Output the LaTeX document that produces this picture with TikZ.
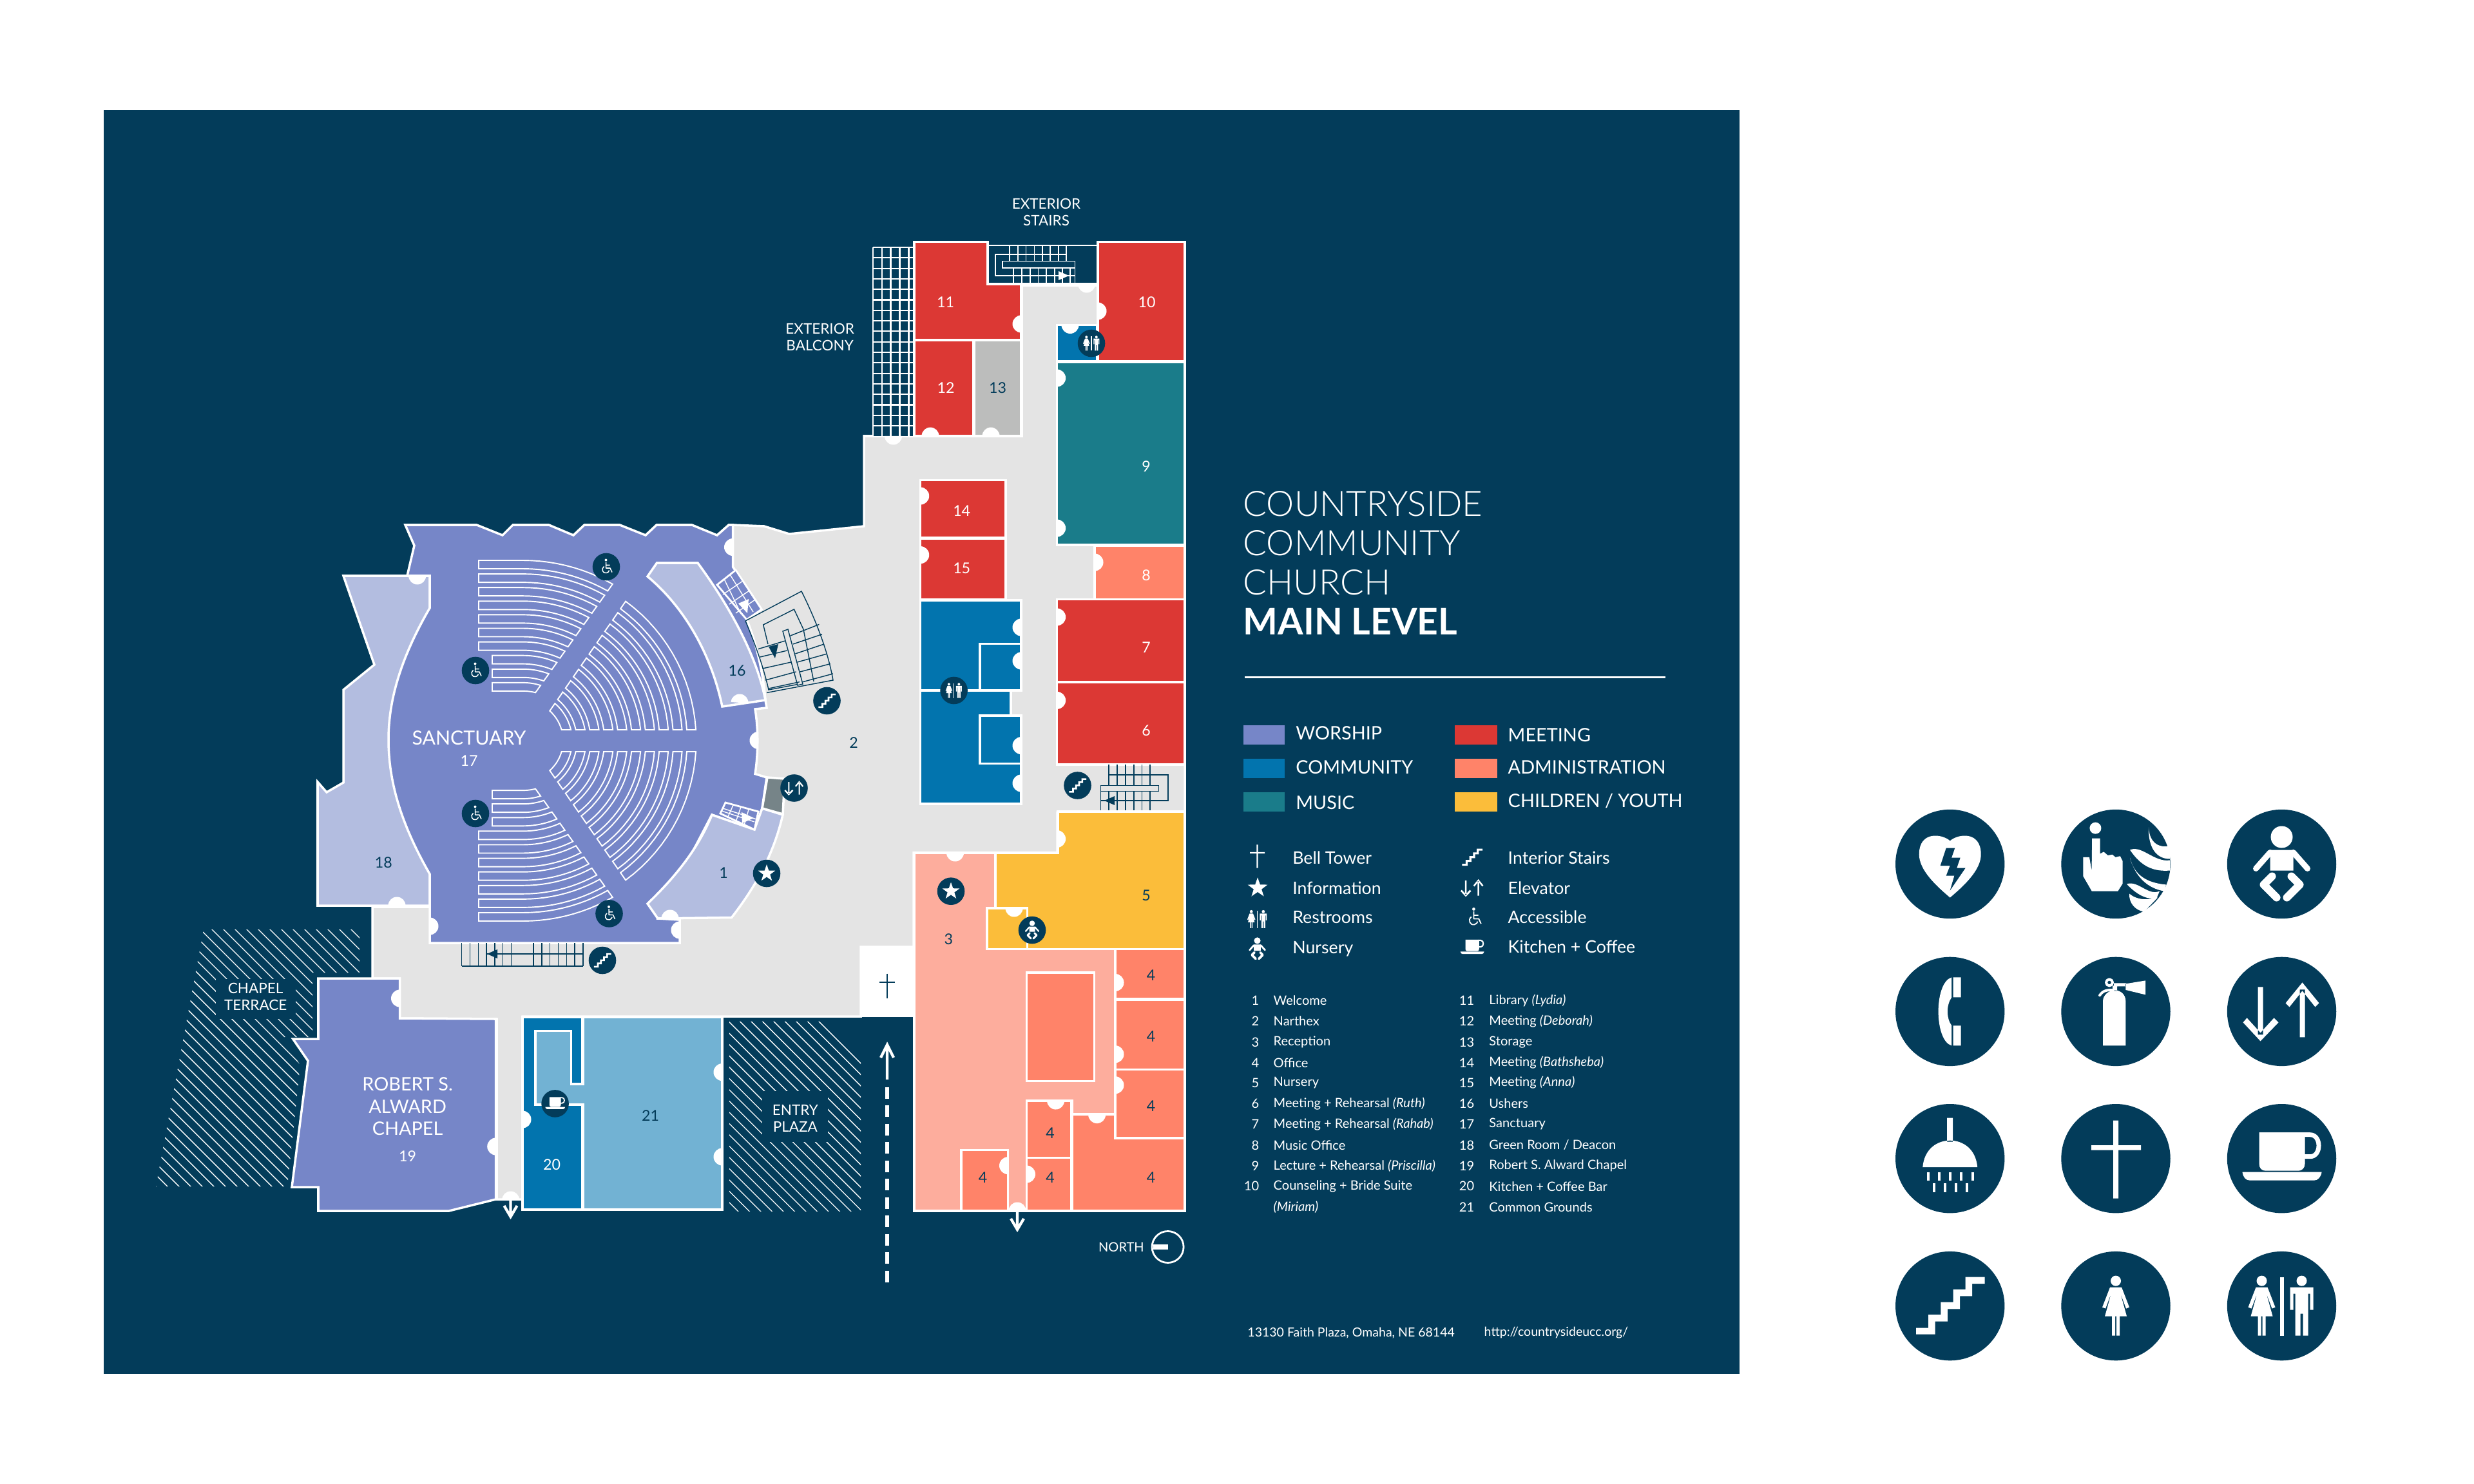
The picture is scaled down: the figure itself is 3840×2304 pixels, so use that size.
\documentclass[tikz,border=0pt]{standalone}
\usepackage{fontspec}
\setmainfont{Lato}
\newfontfamily\thinfont{Lato Light}
\usepackage{xcolor}
\definecolor{ink}{HTML}{033C5A}
\definecolor{worship}{HTML}{7686C8}
\definecolor{worshiplt}{HTML}{B3BDE0}
\definecolor{commun}{HTML}{0274AE}
\definecolor{communlt}{HTML}{72B2D3}
\definecolor{music}{HTML}{1A7C8A}
\definecolor{meeting}{HTML}{DC3834}
\definecolor{admin}{HTML}{FF8369}
\definecolor{adminlt}{HTML}{FDAD9D}
\definecolor{youth}{HTML}{FBBD3A}
\definecolor{hall}{HTML}{E4E4E4}
\definecolor{store}{HTML}{BCBDBC}
\definecolor{lift}{HTML}{768488}

% icons, drawn for a disc of radius 85, y down
\newcommand{\icostar}{\fill[white] (0,-56) -- (13,-18) -- (53,-17) -- (21,7) -- (33,45) -- (0,22) -- (-33,45) -- (-21,7) -- (-53,-17) -- (-13,-18) -- cycle;}
\newcommand{\icostep}{\fill[white] (-52.6,34) -- (-33.5,34) -- (-33.5,13.5) -- (-14.4,13.5) -- (-14.4,-5.9) -- (4.8,-5.9) -- (4.8,-25.8) -- (24,-25.8) -- (24,-45) -- (54,-45) -- (54,-34.6) -- (34.4,-34.6) -- (34.4,-15.3) -- (15.3,-15.3) -- (15.3,4.7) -- (-3.8,4.7) -- (-3.8,24) -- (-23,24) -- (-23,44) -- (-52.6,44) -- cycle;}
\newcommand{\icolift}{\fill[white] (-37,-38) rectangle (-29,36) (-33,46) -- (-60,17) -- (-54,10) -- (-33,33) -- (-12,10) -- (-5,17) -- cycle
  (28,-34) rectangle (36,40) (32,-45) -- (58,-13) -- (52,-7) -- (32,-32) -- (12,-7) -- (6,-13) -- cycle;}
\newcommand{\icowoman}{\fill[white] (0,-39) circle[radius=8] (-9,-29) -- (9,-29) -- (21,2) -- (16,4) -- (7,-20) -- (17,16) -- (6,16) -- (6,46) -- (1,46) -- (1,16) -- (-1,16) -- (-1,46) -- (-6,46) -- (-6,16) -- (-17,16) -- (-7,-20) -- (-16,4) -- (-21,2) -- cycle;}
\newcommand{\icoman}{\fill[white] (0,-39) circle[radius=8] (-18,-29) -- (18,-29) -- (18,6) -- (13,6) -- (13,-19) -- (10,-19) -- (10,46) -- (2,46) -- (2,12) -- (-2,12) -- (-2,46) -- (-10,46) -- (-10,-19) -- (-13,-19) -- (-13,6) -- (-18,6) -- cycle;}
\newcommand{\icorest}{\begin{scope}[shift={(-31,0)}]\icowoman\end{scope}\begin{scope}[shift={(31,0)}]\icoman\end{scope}\fill[white] (-3,-45) rectangle (3,46);}
\newcommand{\icobaby}{\fill[white] (0,-42) circle[radius=17] (-18,-22) rectangle (18,10);
  \draw[icoln=9] (-18,-18) -- (-40,7) (18,-18) -- (40,7);
  \draw[icoln=12] (-15,19) -- (-28,32) -- (-8,52) (15,19) -- (28,32) -- (8,52);}
\newcommand{\icochair}{\fill[white] (-2,-42) circle[radius=8];
  \draw[icoln=6,line cap=butt] (-2,-30) -- (-2,8) -- (24,8) -- (36,34) (-2,-10) -- (22,-10)
    (-14,-2) .. controls (-34,12) and (-22,44) .. (2,38) .. controls (12,36) and (17,28) .. (18,22);}
\newcommand{\icocup}{\fill[white] (-35,-40.5) -- (36,-40.5) -- (36,8) .. controls (36,15) and (31,19) .. (26,19) -- (-25,19) .. controls (-31,19) and (-35,15) .. (-35,8) -- cycle
  (-61,21) -- (62,21) .. controls (61,29) and (56,34) .. (50,34) -- (-49,34) .. controls (-56,34) and (-60,29) .. (-61,21) -- cycle;
  \draw[icoln=7,line cap=butt] (34,-37) -- (44,-37) .. controls (62,-37) and (62,-3) .. (44,-3) -- (34,-3);}
\newcommand{\icocross}{\fill[white] (-4,-59) rectangle (4,62) (-38,-20.5) rectangle (39,-13);}
\newcommand{\icoheart}{\fill[white] (0,-36) .. controls (-12,-47) and (-48,-52) .. (-48,-15) .. controls (-48,10) and (-20,35) .. (0,52) .. controls (20,35) and (48,10) .. (48,-15) .. controls (48,-52) and (12,-47) .. (0,-36) -- cycle;
  \fill[ink] (-6,-25) -- (7.6,-25) -- (2.4,-10) -- (16,-10) -- (10.5,6) -- (24,6) -- (0,41) -- (6.7,18) -- (-6,18) -- (0,2.5) -- (-15,2.5) -- cycle;}
\newcommand{\icofire}{\fill[white] (-31.6,-55.8) circle[radius=9]
  (-36.8,-40) -- (-24.4,-40) -- (-24.4,-16) -- (-18.7,-19) -- (-12.4,-13.5) -- (-5.3,-14.7) -- (-.5,-10.6) -- (6.7,-12.3) -- (10.5,-4.7) -- (10.5,30.5) -- (3.3,42) -- (-37.3,42) -- (-50.7,18.8) -- (-50.7,-10.6) -- (-41.1,-10.6) -- (-37.5,10) -- cycle
  (51,-57.5) .. controls (52,-30) and (70,-25) .. (84,-28) -- (84,-8) .. controls (60,-8) and (50,-30) .. cycle
  (22,-22) .. controls (40,-30) and (60,-2) .. (84,-6) -- (84,10) .. controls (60,12) and (40,5) .. cycle
  (22,-10) .. controls (30,25) and (60,30) .. (78,32) -- (75,42) .. controls (50,38) and (30,20) .. cycle
  (17,31) .. controls (35,25) and (50,50) .. (68,42) -- (63,54) .. controls (45,55) and (30,45) .. cycle
  (21,46) .. controls (35,58) and (55,55) .. (65,52) -- (44,74) .. controls (30,72) and (20,60) .. cycle;}
\newcommand{\icophone}{\fill[white] (5,-53) rectangle (17,-22) (5,22) rectangle (17,53)
  (2.5,-53) .. controls (-25,-45) and (-25,45) .. (2.5,53) -- (2.5,22) .. controls (-6,10) and (-6,-10) .. (2.5,-22) -- cycle;}
\newcommand{\icoext}{\fill[white] (-20,-16) .. controls (-20,-26) and (-10,-33) .. (-2,-33) .. controls (8,-33) and (15.3,-26) .. (15.3,-16) -- (15.3,53) -- (-20,53) -- cycle
  (15.3,-43) -- (46,-48) -- (46,-26) -- (15.3,-33.5) -- cycle (-3,-44) rectangle (16,-39) (-5,-40) rectangle (2,-32);
  \draw[icoln=4,line cap=butt] (-10,-45) circle[radius=5];
  \draw[icoln=4] (-25,-25) .. controls (-20,-33) and (-12,-34) .. (-4,-33);}
\newcommand{\icoshower}{\fill[white] (-4.5,-63) rectangle (4.5,-26) (-42.5,13.5) .. controls (-40,-15) and (-20,-28) .. (0,-28) .. controls (20,-28) and (40,-15) .. (42.5,13.5) -- cycle;
  \foreach \dx in {-33.5,-17,0.5,17.5,35}{\fill[white] (\dx-2,21) rectangle (\dx+2,34);}
  \foreach \dx in {-25,-8,9,26}{\fill[white] (\dx-2,38) rectangle (\dx+2,52);}}

\newcommand{\icon}[4]{\begin{scope}[shift={(#1,#2)},scale=#3]\def\us{#3}\csname ico#4\endcsname\end{scope}}
\newcommand{\disc}[3]{\fill[ink] (#1,#2) circle[radius=21.3]; \icon{#1}{#2}{.25}{#3}}
\newcommand{\bigdisc}[3]{\fill[ink] (#1,#2) circle[radius=84.7]; \icon{#1}{#2}{1}{#3}}
\newcommand{\door}[3]{\fill[white,shift={(#1,#2)},rotate=#3] (0,-0.135cm) arc[start angle=-90,end angle=90,radius=0.135cm] -- cycle;}
\newcommand{\exitarrow}[4]{\draw[walk] (#1,#2) -- (#1,#3) (#1-10,#4) -- (#1,#3) -- (#1+10,#4);}

\begin{document}
\begin{tikzpicture}[x=0.01cm,y=-0.01cm]

\tikzset{room/.style = {draw=white,line width=1pt,line join=miter}}
\tikzset{thin wall/.style = {draw=white,line width=0.6pt}}
\tikzset{seat/.style = {draw=white,line width=0.55pt}}
\tikzset{hatch/.style = {draw=white,line width=0.4pt}}
\tikzset{tread/.style = {draw=ink,line width=0.4pt}}
\tikzset{treadw/.style = {draw=white,line width=0.4pt}}
\tikzset{walk/.style = {draw=white,line width=1.2pt}}
\tikzset{icoln/.style = {draw=white,line width={\us*#1*0.2845pt},line cap=round,line join=round}}
\tikzset{numw/.style = {text=white,inner sep=0pt,font=\fontsize{6.6}{8}\selectfont}}
\tikzset{numd/.style = {text=ink,inner sep=0pt,font=\fontsize{6.6}{8}\selectfont}}
\tikzset{place/.style = {text=white,inner sep=0pt,align=center,font=\fontsize{6.4}{7.6}\selectfont}}
\tikzset{head/.style = {text=white,inner sep=0pt,anchor=west,font=\fontsize{8.2}{10}\selectfont}}
\tikzset{sym/.style = {text=white,inner sep=0pt,anchor=west,font=\fontsize{7.6}{9}\selectfont}}
\tikzset{item/.style = {text=white,inner sep=0pt,anchor=west,font=\fontsize{5.7}{7}\selectfont}}
\tikzset{itemno/.style = {text=white,inner sep=0pt,anchor=east,font=\fontsize{5.7}{7}\selectfont}}
\tikzset{title/.style = {text=white,inner sep=0pt,anchor=west,font=\thinfont\fontsize{15.5}{19}\selectfont}}

\useasboundingbox (0,0) rectangle (3840,2304);
\fill[ink] (161,171) rectangle (2700,2133);

%hatched terraces
\begin{scope}
\clip (316,1443) -- (558,1443) -- (558,1510) -- (485,1510) -- (485,1610) -- (440,1610) -- (466,1654) -- (446,1842) -- (242,1842) -- cycle;
\foreach \d in {-200,-182,...,520}{\draw[hatch] (\d,1400) -- ++(520,520);}
\end{scope}
\fill[ink] (335,1520) rectangle (459,1582);
\begin{scope}
\clip (1132,1586) rectangle (1336,1880);
\foreach \d in {560,577.5,...,1100}{\draw[hatch] (\d,1400) -- ++(520,520);}
\end{scope}
\fill[ink] (1183,1694) rectangle (1285,1773);

%narthex and halls
\draw[room,fill=hall] (1137,830) -- (1137,815) -- (1186,817) -- (1225,829) -- (1341,817) -- (1341,677) -- (1586,677) -- (1586,443) -- (1702,443) -- (1839,443) -- (1839,1262) -- (1641,1262) -- (1641,1324) -- (1418,1324) -- (1418,1470) -- (1336,1470) -- (1336,1578) -- (811,1578) -- (811,1862) -- (771,1862) -- (771,1582) -- (620,1581) -- (620,1519) -- (578,1519) -- (578,1408) -- (700,1408) -- (700,900) -- cycle;
\fill[white] (1336,1470) rectangle (1419,1579);

%worship
\draw[room,fill=worshiplt] (533,894) -- (667,894) -- (667,1406) -- (493,1406) -- (493,1214) -- (507,1230) -- (533,1215) -- (533,1071) -- (581,1032) -- cycle;
\draw[room,fill=worship] (629,815) -- (740,815) -- (780,831) -- (796,815) -- (852,815) -- (890,831) -- (907,815) -- (962,815) -- (1002,831) -- (1019,815) -- (1074,815) -- (1113,831) -- (1131,815) -- (1137.5,815) -- (1137.5,880) -- (1182,946) -- (1159,962) .. controls (1175,1000) and (1185,1050) .. (1188,1087) -- (1190,1099) -- (1172,1101) .. controls (1177,1130) and (1177,1170) .. (1172,1201.5) -- (1190,1207) -- (1183,1255) -- (1171,1288) -- (1105,1265) -- (1021,1426) -- (1055,1428) -- (1055,1464) -- (667,1464) -- (667,1357) .. controls (620,1275) and (603,1210) .. (603,1148) .. controls (603,1090) and (620,1025) .. (667,944) -- (667,894) -- (632,894) -- (643,847) -- cycle;
\draw[room,fill=worshiplt] (1019.5,874) -- (1083,874) .. controls (1135,945) and (1175,1020) .. (1188,1087) -- (1121,1097) .. controls (1105,1020) and (1065,945) .. (1005,895) -- cycle;
\draw[room,fill=worshiplt] (1105,1265) -- (1171,1288) -- (1183,1255) -- (1215,1265) .. controls (1200,1330) and (1170,1380) .. (1135.6,1424.5) -- (1021,1426) -- (1005,1403) .. controls (1050,1360) and (1085,1315) .. (1105,1265) -- cycle;
\draw[room,fill=lift] (1191,1207) -- (1218,1209) -- (1215,1264) -- (1183,1255) -- cycle;

%seating
\def\cx{812}
\def\cy{1150}
\foreach \s in {1,-1}{
\foreach \i in {0,...,9}{
  \pgfmathsetmacro\ri{62+21.4*\i}
  \pgfmathsetmacro\ro{\ri+14}
  \pgfmathsetmacro\aa{asin(17/\ro)}
  \pgfmathsetmacro\ab{55.3-asin(7.6/\ro)}
  \pgfmathsetmacro\ac{55.3-asin(7.6/\ri)}
  \pgfmathsetmacro\ad{asin(17/\ri)}
  \draw[seat] plot[domain=\aa:\ab,samples=16] ({\cx+\ro*cos(\x)},{\cy-\s*\ro*sin(\x)}) -- plot[domain=\ac:\ad,samples=16] ({\cx+\ri*cos(\x)},{\cy-\s*\ri*sin(\x)}) -- cycle;
}
\foreach \i/\xa in {0/743,1/743,2/743,3/743,4/743,5/743,6/743,7/764,8/764,9/764}{
  \pgfmathsetmacro\ro{280-21.1*\i}
  \pgfmathsetmacro\ri{\ro-13}
  \pgfmathsetmacro\ab{54.6+asin(27.7/\ro)}
  \pgfmathsetmacro\ac{54.6+asin(27.7/\ri)}
  \draw[seat] (\xa,\cy-\s*\ro) -- plot[domain=90:\ab,samples=12] ({\cx+\ro*cos(\x)},{\cy-\s*\ro*sin(\x)}) -- plot[domain=\ac:90,samples=12] ({\cx+\ri*cos(\x)},{\cy-\s*\ri*sin(\x)}) -- (\xa,\cy-\s*\ri) -- cycle;
}}

%small stairs in the sanctuary
\draw[treadw,fill=worship,line width=0.8pt] (1113,908) -- (1142,885) -- (1182,946) -- (1159,962) -- cycle;
\draw[treadw] (1122,923) -- (1153,902) (1132,938) -- (1163,917) (1142,952) -- (1172,931) (1124,899) -- (1150,953) (1133,892) -- (1169,950);
\fill[white] (1162,930) -- (1160,952) -- (1146,937) -- cycle;
\draw[treadw,fill=worship,line width=0.8pt] (1118,1263) -- (1126,1246) -- (1177,1260) -- (1171,1288) -- cycle;
\draw[treadw] (1122,1255) -- (1174,1272) (1120,1259) -- (1171,1276) (1138,1250) -- (1129,1270) (1150,1253) -- (1142,1276) (1162,1257) -- (1155,1281);
\fill[white] (1151,1261) -- (1170,1270) -- (1152,1278) -- cycle;

%stairs by the ushers room
\draw[tread] (1157,964) -- (1244,918) .. controls (1265,960) and (1285,1010) .. (1293,1056) -- (1190,1075.5);
\draw[tread] (1157,964) .. controls (1172,1000) and (1185,1035) .. (1193,1071) -- (1246,1061);
\draw[tread] (1192,1000) -- (1184.7,970) -- (1232.5,946) -- (1247,977) -- (1263,1058);
\draw[tread,fill=hall] (1215,980) -- (1223,977) -- (1246,1062) -- (1238,1064) -- cycle;
\foreach \ax/\ay/\bx/\by in {1177/1007.6/1218.5/995,1180/1020/1221.7/1010,1183.4/1038/1228/1028,1188/1056/1235.7/1043,1193/1069/1241/1058.7,1226.8/987/1271.4/969.4,1231/1000/1276/984.7,1234.4/1015/1279/1000,1237.6/1028/1284/1015,1242/1043/1288.7/1030.6,1246/1058.7/1293/1046}{
  \draw[tread] (\ax,\ay) -- (\bx,\by);
}
\fill[ink] (1193,1004) -- (1208,1000) -- (1203,1022) -- cycle;

%stairs below the sanctuary
\foreach \xa in {716.6,729.4,...,794}{\draw[tread] (\xa,1464) -- (\xa,1500);}
\foreach \xa in {828,840.8,...,906}{\draw[tread] (\xa,1464) -- (\xa,1500);}
\draw[tread] (716.6,1500) -- (904.7,1500) (756,1481) -- (904.7,1481);
\fill[ink] (756,1481) -- (772,1474) -- (772,1488) -- cycle;

%north wing
\fill[ink] (1354.6,384) rectangle (1417.6,677);
\foreach \xa in {1354.6,1369,1382.5,1396.5,1410.5}{\draw[thin wall] (\xa,384) -- (\xa,677);}
\foreach \ya in {384,400.3,...,670}{\draw[thin wall] (1354.6,\ya) -- (1417.6,\ya);}
\draw[room,fill=ink,line width=0.7pt] (1533,381) rectangle (1703,440);
\foreach \xa in {1567,1580,1592.6,1605.6,1618,1630,1643,1655}{\draw[treadw] (\xa,382) -- (\xa,405.6);}
\foreach \xa in {1573,1586,1599,1611.5,1624,1637,1649,1661}{\draw[treadw] (\xa,416) -- (\xa,439.5);}
\draw[treadw] (1655,395) -- (1545,395) -- (1545,428) -- (1668.7,428) (1668.7,439.5) -- (1668.7,405.6) -- (1556,405.6) -- (1556,416) -- (1668.7,416);
\fill[white] (1643,421) -- (1659,428) -- (1643,435) -- cycle;

\draw[room,fill=meeting] (1419,375.7) -- (1533,375.7) -- (1533,441) -- (1585,441) -- (1585,527.5) -- (1419,527.5) -- cycle;
\draw[room,fill=meeting] (1419,528.5) rectangle (1511,677);
\draw[room,fill=store] (1512.6,528.5) rectangle (1585,677);
\draw[room,fill=meeting] (1704,375.7) rectangle (1839,560.6);
\draw[room,fill=commun] (1640.6,504.5) rectangle (1702.6,560.6);
\draw[room,fill=music] (1640.6,562.5) rectangle (1839,846);
\draw[room,fill=admin] (1699,847.6) rectangle (1839,930.5);
\draw[room,fill=meeting] (1640.6,930.5) rectangle (1839,1059);
\draw[room,fill=meeting] (1640.6,1059) rectangle (1839,1187);
\draw[room,fill=meeting] (1428.7,745.6) rectangle (1561,835);
\draw[room,fill=meeting] (1428.7,836) rectangle (1561,930.5);
\draw[room,fill=commun] (1428.7,932) -- (1585,932) -- (1585,1072) -- (1569,1072) -- (1569,1111) -- (1585,1111) -- (1585,1248) -- (1428.7,1248) -- cycle;
\draw[room] (1428.7,1072) -- (1585,1072);
\draw[room,fill=commun] (1521,999.4) rectangle (1585,1072);
\draw[room,fill=commun] (1521,1111) rectangle (1585,1185.6);

%stairs by room 6
\foreach \xa in {1721,1734,1747,1760,1772.4,1785}{\draw[tread] (\xa,1187) -- (\xa,1219.4) (\xa,1228.3) -- (\xa,1259);}
\draw[tread] (1721,1203) -- (1813,1203) -- (1813,1243) -- (1708.4,1243) (1708.4,1259) -- (1708.4,1219.4) -- (1798.6,1219.4) -- (1798.6,1228.3) -- (1708.4,1228.3);
\fill[ink] (1714,1243) -- (1730,1236) -- (1730,1250) -- cycle;

%south wing
\draw[room,fill=adminlt] (1419,1324) -- (1545,1324) -- (1545,1410) -- (1532,1410) -- (1532,1473.5) -- (1731,1473.5) -- (1731,1730) -- (1664,1730) -- (1664,1709) -- (1593.5,1709) -- (1593.5,1880) -- (1419,1880) -- cycle;
\draw[room,fill=youth] (1642,1260) -- (1839,1260) -- (1839,1473.5) -- (1593.5,1473.5) -- (1593.5,1410) -- (1545,1410) -- (1545,1324) -- (1642,1324) -- cycle;
\draw[room,fill=youth] (1532,1410) rectangle (1594.5,1473.5);
\draw[room,fill=admin] (1593.5,1510) rectangle (1698.7,1678.6);
\draw[room,fill=admin] (1731,1473.5) rectangle (1839,1551);
\draw[room,fill=admin] (1731,1552) rectangle (1839,1660.7);
\draw[room,fill=admin] (1731,1660.7) rectangle (1839,1766.8);
\draw[room,fill=admin] (1664,1730.6) -- (1731,1730.6) -- (1731,1766.8) -- (1839,1766.8) -- (1839,1880) -- (1664,1880) -- cycle;
\draw[room,fill=admin] (1593.5,1709) rectangle (1663,1797.5);
\draw[room,fill=admin] (1593.5,1797.5) rectangle (1663,1880);
\draw[room,fill=admin] (1492,1785.7) rectangle (1564.5,1880);

%chapel and common grounds
\draw[room,fill=worship] (494,1519) -- (620.5,1519) -- (620.5,1581) -- (769.7,1582) -- (769.7,1862) -- (697,1880) -- (494,1880) -- (494,1843) -- (453,1843) -- (478,1647) -- (454.7,1613) -- (494,1613) -- cycle;
\draw[room,fill=commun] (811,1579) rectangle (903.6,1878);
\draw[room,fill=communlt] (905.6,1579) -- (1121,1579) -- (1121,1878) -- (905.6,1878) -- (905.6,1715) -- (831,1715) -- (831,1600.5) -- (886.4,1600.5) -- (886.4,1682.8) -- (905.6,1682.8) -- cycle;

%doors
\foreach \xa/\ya/\r in {1137.5/849.5/180,647.7/894/270,1148/1091/85,1177/1149.5/180,616/1406/90,1040/1426/90,1055/1444/180,667/1438/0,620.5/1550/180,769.7/1780/180,792.7/1863/90,811/1738/0,1121/1664.6/180,1121/1796/180,1585/503/180,1444/677/90,1538/677/90,1386.5/677/270,1686.6/441/270,1704/483/0,1661/504.5/270,1640.6/587/0,1640.6/820/0,1699/873/0,1428.7/770/0,1428.7/861.6/0,1640.6/958/0,1640.6/1087.4/0,1585/974/180,1585/1026/180,1585/1157.6/180,1585/1216/180,1640.6/1302.5/0,1482.5/1324/270,1574/1410/270,1731/1525.5/0,1731/1636.7/0,1731/1684.7/0,1638.6/1709/270,1702.6/1730.6/270,1564.5/1809.7/180,1593.5/1823/0,1579/1880/90}{
  \door{\xa}{\ya}{\r}
}

%way in and exits
\draw[line width=1.7pt,white,dash pattern=on 5.1pt off 3pt] (1377,1688) -- (1377,1991);
\exitarrow{1377}{1676}{1622}{1642}
\exitarrow{792.5}{1864}{1889}{1872}
\exitarrow{1579}{1881}{1909}{1892}
\draw[draw=ink,line width=0.6pt] (1377,1511.5) -- (1377,1550) (1365,1525) -- (1389,1525);

%north mark
\node[place,font=\fontsize{5.7}{7}\selectfont] (north) at (1740.4,1936) {NORTH};
\draw[white,line width=0.8pt] (1812.6,1936) circle[radius=24.5];
\fill[white] (1790,1932) rectangle (1813,1940);

%icons on the plan
\foreach \xa/\ya/\what in {941/880/chair,738/1041/chair,738/1263/chair,945.5/1418.4/chair,1283.5/1088/step,1232.5/1223.5/lift,1190/1356/star,935/1491/step,1694/533/rest,1480.6/1072/rest,1672.5/1219.5/step,861.6/1713.4/cup,1476/1383.7/star,1602/1444/baby}{
  \disc{\xa}{\ya}{\what}
}

%room numbers
\foreach \n/\xa/\ya in {11/1467.5/469.4,10/1780/469.4,12/1468/602,9/1779/724,14/1492.7/793.4,15/1492.7/882.7,8/1779/893,7/1779/1005,6/1779/1134.6,17/728/1181,19/632.6/1795,20/856.5/1808.6}{
  \node[numw] (no\n) at (\xa,\ya) {\n};
}
\foreach \n/\xa/\ya in {13/1548.5/602,2/1325/1153,16/1144/1041,18/595.4/1339,1/1123/1355.6,21/1009.5/1732,5/1779/1390,3/1472.3/1457.7}{
  \node[numd] (no\n) at (\xa,\ya) {\n};
}
\foreach \k/\xa/\ya in {a/1786.5/1514,b/1786.5/1608.7,c/1786.5/1717,d/1630/1759,e/1630/1828,f/1525.7/1828,g/1786.5/1828}{
  \node[numd] (office\k) at (\xa,\ya) {4};
}

%place names
\node[place] (xstairs) at (1624,329.5) {EXTERIOR\\STAIRS};
\node[place] (xbalcony) at (1272.6,523.5) {EXTERIOR\\BALCONY};
\node[place,font=\fontsize{8.6}{10}\selectfont] (sanctuary) at (728,1145.4) {SANCTUARY};
\node[place] (terrace) at (396.7,1547.4) {CHAPEL\\TERRACE};
\node[place,font=\fontsize{8.2}{9.8}\selectfont] (chapel) at (632.6,1718) {ROBERT S.\\ALWARD\\CHAPEL};
\node[place] (plaza) at (1234.3,1736.5) {ENTRY\\PLAZA};

%title
\node[title] (t1) at (1929,782) {COUNTRYSIDE};
\node[title] (t2) at (1929,843) {COMMUNITY};
\node[title] (t3) at (1929,904) {CHURCH};
\node[title,font=\bfseries\fontsize{16.2}{19}\selectfont] (t4) at (1929,965) {MAIN LEVEL};
\draw[white,line width=0.75pt] (1932,1051.7) -- (2585,1051.7);

%colour key
\foreach \k/\c/\ya/\ty/\txt in {a/worship/1126/1137.7/WORSHIP,b/commun/1178/1191/COMMUNITY,c/music/1230/1246/MUSIC}{
  \fill[\c] (1929.6,\ya) rectangle ++(64.8,29.5);
  \node[head] (key\k) at (2010.7,\ty) {\txt};
}
\foreach \k/\c/\ya/\ty/\txt in {d/meeting/1126/1141/MEETING,e/admin/1178/1191/ADMINISTRATION,f/youth/1230/1244/{CHILDREN / YOUTH}}{
  \fill[\c] (2258,\ya) rectangle ++(65.5,29.5);
  \node[head] (key\k) at (2340,\ty) {\txt};
}

%symbol key
\icon{1951.5}{1329}{.3}{cross}
\icon{1952}{1378.5}{.29}{star}
\icon{1951.5}{1427}{.3}{rest}
\icon{1951.5}{1473}{.3}{baby}
\icon{2285}{1331}{.3}{step}
\icon{2285}{1378.5}{.3}{lift}
\icon{2288}{1424}{.3}{chair}
\icon{2285}{1471}{.3}{cup}
\foreach \k/\ya/\txt in {a/1331.6/Bell Tower,b/1378.5/Information,c/1424/Restrooms,d/1473/Nursery}{
  \node[sym] (sym\k) at (2005.6,\ya) {\txt};
}
\foreach \k/\ya/\txt in {e/1331.6/Interior Stairs,f/1378.5/Elevator,g/1424/Accessible,h/1469.6/Kitchen + Coffee}{
  \node[sym] (sym\k) at (2340,\ya) {\txt};
}

%room list
\foreach \n/\ya/\txt in {1/1553.5/Welcome,2/1585.4/Narthex,3/1618/Reception,4/1650/Office,5/1681/Nursery,6/1713.5/Meeting + Rehearsal \textit{(Ruth)},7/1745.4/Meeting + Rehearsal \textit{(Rahab)},8/1778/Music Office,9/1810/Lecture + Rehearsal \textit{(Priscilla)},10/1841.7/Counseling + Bride Suite}{
  \node[itemno] (numl\n) at (1955,\ya) {\n};
  \node[item] (iteml\n) at (1976,\ya) {\txt};
}
\node[item] (itemlx) at (1976,1874.2) {\textit{(Miriam)}};
\foreach \n/\ya/\txt in {11/1553.5/Library \textit{(Lydia)},12/1585.4/Meeting \textit{(Deborah)},13/1618/Storage,14/1650/Meeting \textit{(Bathsheba)},15/1681/Meeting \textit{(Anna)},16/1713.5/Ushers,17/1745.4/Sanctuary,18/1778/{Green Room / Deacon},19/1810/Robert S. Alward Chapel,20/1841.7/Kitchen + Coffee Bar,21/1874.2/Common Grounds}{
  \node[itemno] (numl\n) at (2288.8,\ya) {\n};
  \node[item] (iteml\n) at (2310.7,\ya) {\txt};
}

%address
\node[item,font=\fontsize{5.55}{7}\selectfont] (address) at (1935.7,2069.4) {13130 Faith Plaza, Omaha, NE 68144};
\node[item,font=\fontsize{5.55}{7}\selectfont] (site) at (2303,2069.4) {http://countrysideucc.org/};

%sign set
\bigdisc{3026.7}{1341.5}{heart}
\bigdisc{3284}{1341.5}{fire}
\bigdisc{3541.5}{1341.5}{baby}
\bigdisc{3026.7}{1570.4}{phone}
\bigdisc{3284}{1570.4}{ext}
\bigdisc{3541.5}{1570.4}{lift}
\bigdisc{3026.7}{1798.7}{shower}
\bigdisc{3284}{1798.7}{cross}
\bigdisc{3541.5}{1798.7}{cup}
\bigdisc{3026.7}{2027.6}{step}
\bigdisc{3284}{2027.6}{woman}
\bigdisc{3541.5}{2027.6}{rest}
\end{tikzpicture}
\end{document}
